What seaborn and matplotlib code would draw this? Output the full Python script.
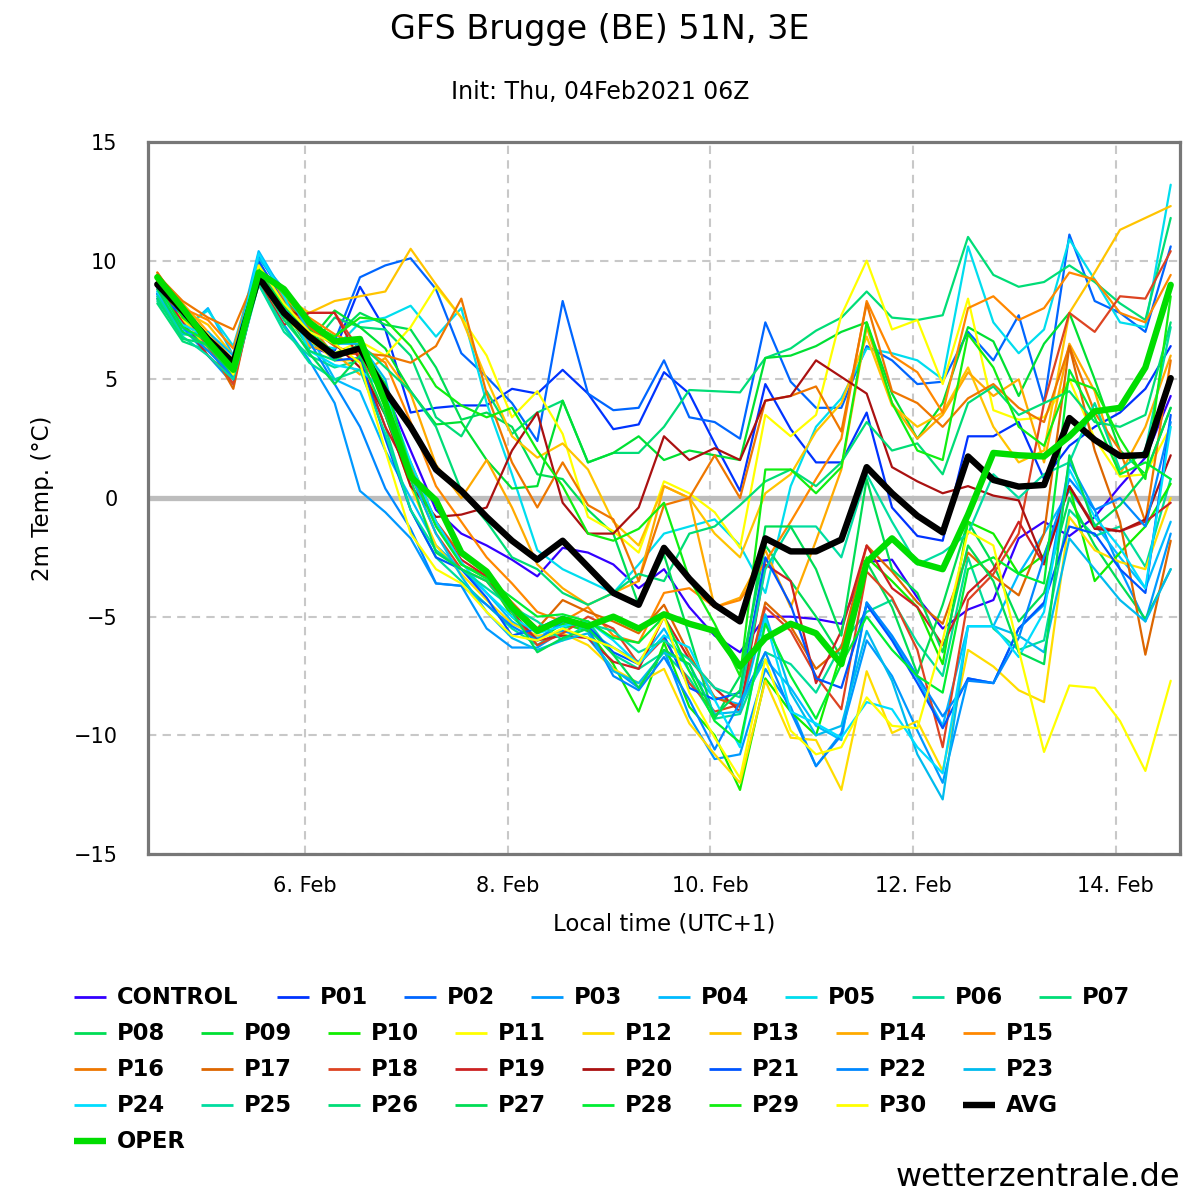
"""
GFS ensemble 2m temperature plume for Brugge (wetterzentrale style).
"""

import matplotlib
matplotlib.use("Agg")
import matplotlib.pyplot as plt
import matplotlib.dates as mdates
from matplotlib.ticker import FuncFormatter
import pandas as pd
import seaborn as sns

sns.set_style("white")
plt.rcParams['font.family'] = ['DejaVu Sans']
plt.rcParams['text.color'] = 'black'
plt.rcParams['axes.labelcolor'] = 'black'
plt.rcParams['xtick.color'] = 'black'
plt.rcParams['ytick.color'] = 'black'

# 6-hourly output, local time (UTC+1)
times = pd.date_range("2021-02-04 13:00", periods=41, freq="6h")

member_names = ["CONTROL"] + [f"P{i:02d}" for i in range(1, 31)]
member_colors = [
    "#3300ff", "#0033ff", "#0066ff", "#0099ff", "#00bbff", "#00ddee",
    "#00dd99", "#00dd77", "#00dd55", "#00e033", "#11ee00", "#ffff00",
    "#ffdd00", "#ffc400", "#ffaa00", "#ff8800", "#ee7700", "#dd6600",
    "#dd4422", "#cc2222", "#aa1111", "#0055ff", "#0088ff", "#00bbee",
    "#00ddff", "#00dda0", "#00dd77", "#00dd55", "#00ee33", "#11ee11",
    "#ffff00",
]

control = [8.6, 7.6, 6.3, 5.2, 9.6, 8.0, 6.4, 6.0, 6.4,
           4.5, 2.0, -0.5, -1.5, -2.0, -2.6, -3.3, -2.1,
           -2.3, -2.8, -3.8, -3.0, -4.6, -5.8, -6.5, -5.0,
           -5.0, -5.1, -5.3, -2.7, -2.6, -4.2, -5.5, -4.7,
           -4.3, -1.7, -1.0, -1.6, -0.8, 0.5, 1.7, 4.3]
p01 = [8.4, 7.5, 6.5, 5.0, 9.9, 8.3, 6.8, 6.2, 8.9,
       7.1, 3.6, 3.8, 3.9, 3.9, 4.6, 4.4, 5.4,
       4.4, 2.9, 3.1, 5.3, 4.4, 2.3, 0.3, 4.8,
       2.9, 1.5, 1.5, 3.6, -0.4, -1.6, -1.8, 2.6,
       2.6, 3.2, 0.8, 2.2, 3.0, 3.6, 4.6, 6.4]
p02 = [8.8, 7.9, 6.8, 5.5, 10.2, 8.5, 7.2, 6.6, 9.3,
       9.8, 10.1, 8.8, 6.1, 5.1, 4.0, 2.4, 8.3,
       4.4, 3.7, 3.8, 5.8, 3.4, 3.2, 2.5, 7.4,
       4.9, 3.8, 3.8, 6.4, 5.8, 4.8, 4.9, 7.0,
       5.8, 7.7, 4.0, 11.1, 8.3, 7.8, 7.0, 10.6]
p03 = [8.5, 7.2, 6.0, 4.8, 9.2, 7.3, 5.8, 4.0, 0.3,
       -0.6, -1.7, -3.6, -3.7, -5.5, -6.3, -6.3, -5.6,
       -5.9, -7.2, -8.0, -6.4, -9.2, -11.0, -10.8, -7.2,
       -8.8, -11.3, -9.9, -6.0, -7.5, -9.8, -12.0, -7.6,
       -7.8, -5.5, -4.5, 1.5, -0.5, -3.0, -5.2, -1.5]
p04 = [8.7, 7.0, 8.0, 6.0, 10.4, 8.6, 6.9, 5.0, 4.5,
       2.0, 0.0, -2.0, -3.0, -4.0, -5.2, -5.9, -5.3,
       -5.6, -6.3, -6.9, -5.5, -7.3, -8.4, -8.7, -6.8,
       -8.0, -9.6, -10.2, -4.4, -5.9, -7.6, -9.6, -5.4,
       -5.4, -3.2, -1.5, 0.3, -1.1, -2.5, -3.8, -1.0]
p05 = [8.9, 7.2, 7.9, 6.4, 10.0, 8.0, 6.5, 6.3, 7.4,
       7.6, 8.1, 6.8, 8.0, 4.0, 1.0, -2.2, -3.0,
       -3.5, -4.0, -2.8, -1.5, -1.2, -0.9, -2.0, -4.0,
       0.5, 3.0, 4.2, 6.3, 6.1, 5.8, 5.0, 10.6,
       7.4, 6.1, 7.1, 10.9, 9.2, 7.4, 7.2, 13.2]
p06 = [8.3, 6.9, 6.8, 5.2, 9.0, 7.0, 6.0, 5.5, 5.8,
       3.0, -0.5, -2.5, -3.5, -4.5, -5.5, -6.2, -5.5,
       -5.2, -6.6, -7.2, -6.5, -7.6, -9.3, -9.1, -6.5,
       -7.0, -8.2, -6.2, -4.8, -4.3, -6.1, -7.5, -2.5,
       -5.5, -6.4, -6.0, -0.5, -1.6, -1.2, -2.9, 0.8]
p07 = [8.2, 6.6, 6.2, 5.6, 9.4, 7.9, 6.3, 7.6, 7.2,
       7.1, 6.0, 3.4, 2.6, 4.5, 2.7, 3.6, 4.1,
       1.5, 1.9, 1.9, 3.0, 4.55, 4.5, 4.45, 5.9,
       6.3, 7.05, 7.6, 8.7, 7.6, 7.5, 7.7, 11.0,
       9.4, 8.9, 9.1, 9.8, 9.1, 8.2, 7.5, 11.8]
p08 = [9.0, 7.3, 6.3, 5.4, 9.5, 8.2, 7.0, 6.8, 7.8,
       7.3, 7.1, 5.5, 3.3, 3.6, 3.0, 1.0, 0.8,
       -0.5, -1.5, -4.5, -2.4, -5.8, -9.3, -7.5, -2.0,
       -3.5, -5.0, -6.7, -2.7, -4.6, -7.4, -4.5, -1.0,
       -2.8, -5.2, -4.0, 0.0, -2.0, -3.6, -5.1, -3.0]
p09 = [9.2, 7.8, 6.7, 5.8, 9.6, 8.0, 6.6, 7.9, 7.2,
       6.3, 4.5, 3.1, 3.2, 1.6, 0.4, 0.5, 4.1,
       1.5, 1.9, 2.6, 1.6, 2.0, 1.8, 1.6, 5.9,
       6.0, 6.4, 7.0, 7.4, 4.4, 2.5, 4.0, 7.2,
       6.6, 4.3, 6.5, 7.8, 5.0, 2.0, 1.0, 3.8]
p10 = [9.3, 7.6, 6.5, 5.6, 9.7, 8.4, 7.1, 6.5, 6.6,
       4.0, 1.5, -1.0, -2.8, -3.3, -5.0, -6.0, -5.3,
       -5.6, -7.0, -9.0, -6.1, -8.8, -10.0, -12.3, -7.6,
       -9.0, -10.0, -6.5, -2.5, -3.5, -4.6, -7.0, -1.0,
       -1.5, -3.2, -2.4, 0.5, -3.5, -2.3, -1.2, 0.6]
p11 = [9.1, 7.5, 6.6, 5.2, 9.3, 8.0, 6.6, 6.1, 6.6,
       6.0, 7.2, 8.9, 7.6, 6.0, 3.4, 4.5, 2.7,
       -0.8, -1.4, -2.3, 0.7, 0.2, -0.6, -2.1, 3.5,
       2.6, 3.5, 7.7, 10.0, 7.1, 7.5, 4.8, 8.4,
       3.7, 3.3, 3.4, 5.0, 2.5, 0.9, 1.0, 3.0]
p12 = [9.4, 7.7, 6.2, 5.3, 9.0, 7.6, 6.7, 5.8, 5.8,
       3.5, 0.5, -2.0, -3.2, -4.3, -5.3, -5.8, -5.7,
       -6.2, -7.2, -7.8, -7.2, -9.5, -10.8, -12.0, -7.7,
       -10.1, -10.2, -12.3, -7.3, -9.9, -9.4, -11.5, -6.4,
       -7.1, -8.1, -8.6, -0.8, -2.2, -2.7, -3.0, 0.0]
p13 = [9.5, 7.9, 7.3, 6.0, 9.2, 8.5, 7.8, 8.3, 8.5,
       8.7, 10.5, 9.0, 7.6, 5.0, 2.6, 1.7, 2.3,
       1.2, -1.0, -2.0, 0.5, 0.0, -1.5, -2.5, 0.2,
       1.0, 2.8, 4.0, 6.8, 3.9, 3.0, 3.6, 5.5,
       3.0, 1.5, 2.0, 7.8, 9.5, 11.3, 11.8, 12.3]
p14 = [9.4, 8.2, 7.0, 5.8, 9.8, 8.0, 6.4, 6.1, 5.2,
       5.9, 4.4, 1.4, 0.0, 1.6, -0.4, -2.8, -3.8,
       -4.5, -4.0, -3.5, 0.5, 0.0, -4.6, -4.2, -2.2,
       -4.6, -1.8, 1.2, 7.2, 4.0, 2.5, 3.5, 5.3,
       4.3, 5.0, 1.5, 6.5, 4.5, 1.0, 3.0, 6.0]
p15 = [9.3, 8.0, 7.5, 6.3, 9.9, 8.4, 7.6, 6.9, 6.4,
       5.7, 3.2, 0.5, -1.0, -2.5, -3.6, -4.8, -5.2,
       -4.6, -5.8, -6.1, -4.0, -3.8, -4.6, -4.3, -2.7,
       -1.0, 0.8, 2.5, 8.3, 6.0, 5.3, 3.6, 8.0,
       8.5, 7.5, 8.0, 9.5, 9.2, 7.8, 7.4, 9.4]
p16 = [9.4, 8.3, 7.6, 7.1, 9.6, 8.1, 7.3, 6.0, 6.1,
       6.0, 5.7, 6.4, 8.4, 4.4, 1.5, -0.4, 1.5,
       -0.3, -0.9, -3.5, -0.3, 0.0, 1.8, 0.0, 4.1,
       4.3, 4.7, 2.8, 8.2, 4.5, 4.0, 3.0, 4.2,
       4.8, 3.8, 3.2, 6.4, 3.6, 2.0, -1.0, 5.8]
p17 = [9.5, 8.0, 6.5, 4.6, 9.5, 8.3, 7.2, 6.4, 6.0,
       4.2, 1.3, -1.0, -2.4, -3.2, -4.4, -5.5, -4.3,
       -4.8, -5.2, -5.7, -4.5, -6.6, -8.4, -8.8, -4.4,
       -5.4, -7.2, -6.3, -2.0, -3.1, -4.4, -5.3, -2.3,
       -3.3, -4.1, -1.5, 6.4, 2.0, -1.0, -6.6, -1.8]
p18 = [9.1, 7.8, 6.4, 4.8, 9.3, 7.6, 7.8, 7.8, 6.2,
       4.0, 1.0, -1.5, -3.0, -3.5, -4.8, -6.2, -5.7,
       -5.0, -5.5, -7.0, -5.9, -7.8, -9.0, -8.7, -4.6,
       -5.6, -7.5, -8.9, -3.1, -4.2, -6.4, -10.5, -4.3,
       -3.2, -1.5, 4.0, 7.8, 7.0, 8.5, 8.4, 10.4]
p19 = [9.0, 7.4, 6.0, 5.0, 9.1, 7.3, 7.8, 7.8, 5.8,
       3.0, 1.0, -1.0, -2.6, -3.3, -4.8, -6.0, -5.8,
       -5.9, -6.9, -7.2, -5.0, -6.8, -8.0, -9.0, -2.8,
       -3.5, -7.8, -5.6, -2.0, -3.8, -4.6, -6.2, -4.0,
       -3.0, -1.0, -2.8, 0.5, -1.2, -1.4, -1.0, -0.2]
p20 = [9.2, 7.8, 6.5, 5.3, 9.4, 8.0, 7.5, 6.5, 5.5,
       3.5, 0.5, -0.8, -0.7, -0.4, 2.0, 3.6, -0.2,
       -1.5, -1.5, -0.4, 2.6, 1.6, 2.1, 1.6, 4.1,
       4.3, 5.8, 5.1, 4.4, 1.3, 0.7, 0.2, 0.5,
       0.1, -0.1, -2.7, 0.5, -1.3, -1.4, -0.9, 1.8]
p21 = [8.6, 7.7, 6.6, 5.0, 10.0, 8.2, 6.9, 5.8, 5.9,
       2.5, -0.5, -2.5, -3.0, -4.2, -5.8, -5.5, -5.0,
       -5.4, -6.5, -7.0, -5.8, -8.0, -8.5, -8.2, -2.5,
       -4.5, -7.6, -8.0, -4.5, -6.0, -7.8, -9.7, -7.6,
       -7.8, -5.5, -4.4, -1.2, -1.5, -3.0, -4.0, 3.5]
p22 = [8.9, 7.2, 6.2, 5.1, 9.8, 8.1, 6.6, 4.8, 3.0,
       0.4, -1.3, -3.6, -3.7, -4.5, -5.4, -6.0, -5.2,
       -5.5, -7.5, -8.1, -6.7, -8.5, -10.6, -8.6, -6.5,
       -9.0, -11.3, -10.0, -4.4, -5.8, -7.5, -9.2, -7.7,
       -7.8, -5.9, -2.5, 0.8, -0.5, 0.0, -1.2, 3.2]
p23 = [8.6, 6.9, 7.0, 6.0, 10.1, 8.8, 7.0, 6.5, 6.5,
       5.0, 1.0, -1.5, -3.3, -4.8, -5.9, -6.4, -6.0,
       -5.7, -7.3, -7.8, -6.5, -7.0, -9.1, -9.0, -4.9,
       -8.2, -10.0, -9.6, -5.6, -7.7, -10.8, -12.7, -5.4,
       -5.4, -5.8, -6.5, -1.7, -3.0, -4.3, -5.2, -3.0]
p24 = [8.7, 7.3, 6.8, 5.5, 10.3, 8.5, 6.2, 5.6, 5.4,
       4.5, 1.5, -1.0, -2.7, -4.0, -5.0, -5.7, -5.4,
       -5.2, -6.0, -7.0, -5.8, -6.3, -8.5, -10.5, -5.1,
       -9.0, -9.5, -10.1, -8.6, -8.9, -10.5, -11.6, -5.4,
       -5.4, -6.7, -4.8, 1.2, -0.8, -2.1, -3.8, 3.0]
p25 = [8.5, 6.8, 6.0, 5.0, 9.0, 7.2, 5.7, 5.0, 5.4,
       2.7, -0.5, -2.2, -3.0, -3.8, -4.6, -5.2, -6.0,
       -5.3, -5.6, -6.5, -6.0, -6.8, -8.0, -8.4, -3.0,
       -1.2, -1.2, -2.5, 1.0, -1.0, -2.8, -2.3, -1.5,
       1.0, 0.0, 1.0, 1.5, 4.0, 1.2, 2.0, 7.2]
p26 = [8.4, 6.7, 6.5, 5.3, 9.3, 7.5, 6.2, 5.8, 6.5,
       5.5, 4.5, 3.0, 0.3, -1.0, -2.5, -3.0, -4.0,
       -4.5, -4.0, -3.2, -3.5, -1.5, -1.2, -0.3, 0.7,
       1.2, 0.5, 1.5, 3.2, 2.0, 2.3, 1.0, 4.0,
       4.7, 3.5, 4.0, 4.5, 3.2, 3.0, 3.5, 7.4]
p27 = [8.8, 7.0, 6.4, 5.2, 9.2, 7.7, 6.1, 4.8, 6.0,
       3.5, 0.8, -2.3, -3.0, -3.5, -4.8, -6.5, -5.9,
       -5.5, -6.6, -8.0, -6.4, -7.0, -9.2, -8.1, -1.2,
       -1.2, -3.0, -5.8, 0.8, -3.0, -4.0, -6.5, -2.0,
       -3.5, -6.5, -7.0, 1.8, -1.2, -0.3, 1.0, 3.8]
p28 = [9.0, 7.2, 6.6, 5.4, 9.5, 8.1, 7.0, 6.1, 6.4,
       4.8, 1.2, -1.2, -2.8, -3.4, -4.2, -5.0, -4.9,
       -5.2, -5.9, -6.1, -5.0, -7.3, -9.4, -10.3, -5.3,
       -7.5, -9.3, -7.0, -5.0, -6.4, -7.5, -8.2, -3.0,
       -2.5, -3.2, -3.6, 5.4, 3.4, 1.0, 1.5, 0.8]
p29 = [9.4, 7.6, 6.8, 5.7, 9.7, 8.6, 7.4, 6.8, 7.6,
       7.5, 6.4, 4.7, 3.9, 3.4, 3.8, 2.0, 0.5,
       -1.5, -1.8, -1.3, -0.2, -3.4, -5.3, -7.5, 1.2,
       1.2, 0.2, 1.3, 7.4, 4.0, 2.0, 1.6, 6.9,
       5.5, 3.0, 2.2, 5.0, 4.6, 2.5, 0.8, 8.5]
p30 = [9.3, 7.9, 6.9, 5.2, 9.8, 8.2, 7.0, 6.5, 5.7,
       2.0, -1.5, -3.0, -3.6, -4.8, -5.8, -6.0, -5.5,
       -5.9, -6.3, -7.0, -5.0, -8.2, -10.1, -11.8, -6.8,
       -9.8, -10.8, -10.5, -8.4, -9.6, -9.7, -6.0, -1.4,
       -2.0, -6.4, -10.7, -7.9, -8.0, -9.4, -11.5, -7.7]

avg = [9.0, 7.9, 6.7, 5.7, 9.3, 7.8, 6.8, 6.0, 6.3,
       4.5, 3.0, 1.2, 0.3, -0.8, -1.8, -2.6, -1.8,
       -2.9, -4.0, -4.5, -2.1, -3.4, -4.5, -5.2, -1.7,
       -2.25, -2.25, -1.75, 1.3, 0.2, -0.75, -1.45, 1.75,
       0.76, 0.48, 0.55, 3.37, 2.45, 1.77, 1.81, 5.05]
oper = [9.3, 8.0, 6.6, 5.4, 9.5, 8.8, 7.4, 6.6, 6.7,
        4.0, 0.9, -0.1, -2.3, -3.1, -4.6, -5.6, -5.1,
        -5.4, -5.0, -5.5, -4.9, -5.3, -5.6, -7.1, -5.9,
        -5.3, -5.7, -7.0, -2.7, -1.7, -2.7, -3.0, -0.7,
        1.9, 1.8, 1.75, 2.6, 3.65, 3.8, 5.5, 8.98]

members = [control, p01, p02, p03, p04, p05, p06, p07, p08, p09, p10,
           p11, p12, p13, p14, p15, p16, p17, p18, p19, p20,
           p21, p22, p23, p24, p25, p26, p27, p28, p29, p30]

W, H = 1200, 1200
fig = plt.figure(figsize=(12, 12), dpi=100)
fig.patch.set_facecolor("white")
ax = fig.add_axes([148 / W, 1 - 854 / H, 1032 / W, 712 / H])

ax.axhline(0, color="#bdbdbd", lw=3.8, zorder=1.5)
for vals, col in zip(members, member_colors):
    sns.lineplot(x=times, y=vals, color=col, linewidth=1.6, ax=ax, zorder=2)
sns.lineplot(x=times, y=avg, color="black", linewidth=4.6, ax=ax, zorder=3)
sns.lineplot(x=times, y=oper, color="#00dd00", linewidth=4.6, ax=ax, zorder=4)

pad = pd.Timedelta(hours=2.2)
ax.set_xlim(times[0] - pad, times[-1] + pad)
ax.set_ylim(-15, 15)
ax.set_yticks(range(-15, 16, 5))
ax.xaxis.set_major_locator(mdates.DayLocator(bymonthday=[6, 8, 10, 12, 14]))
ax.xaxis.set_major_formatter(FuncFormatter(lambda v, p: f"{mdates.num2date(v).day}. Feb"))
ax.grid(True, color="#c8c8c8", lw=1.5, ls=(0, (4, 3)), zorder=0)
ax.set_axisbelow(True)
ax.tick_params(axis="both", length=0, labelsize=15)
ax.tick_params(axis="y", pad=22)
ax.tick_params(axis="x", pad=16)
for s in ax.spines.values():
    s.set_color("#777777")
    s.set_linewidth(2.3)
ax.set_xlabel("Local time (UTC+1)", fontsize=16.5, labelpad=12)
ax.set_ylabel("2m Temp. (°C)", fontsize=16.5, labelpad=14)

fig.text(0.5, 1 - 29 / H, "GFS Brugge (BE) 51N, 3E", ha="center", va="center", fontsize=24)
fig.text(0.5, 1 - 92 / H, "Init: Thu, 04Feb2021 06Z", ha="center", va="center", fontsize=17)
fig.text(1180 / W, 1 - 1177 / H, "wetterzentrale.de", ha="right", va="center", fontsize=23)

# legend laid out in pixel coordinates, flowing like the original
lax = fig.add_axes([0, 0, 1, 1], facecolor="none")
lax.set_xlim(0, W)
lax.set_ylim(H, 0)
lax.axis("off")
labels = member_names + ["AVG", "OPER"]
lcolors = member_colors + ["black", "#00dd00"]
for k, (lab, col) in enumerate(zip(labels, lcolors)):
    row, slot = divmod(k, 8)
    tx = 117 + 127 * slot + (76 if row == 0 and slot > 0 else 0)
    ty = 997 + 36 * row
    thick = lab in ("AVG", "OPER")
    lax.plot([tx - 43, tx - 11], [ty, ty], color=col, lw=4.6 if thick else 2.0,
             solid_capstyle="butt")
    lax.text(tx, ty, lab, ha="left", va="center", fontsize=16.3, fontweight="bold")

fig.savefig("out.png", dpi=100, facecolor="white")
